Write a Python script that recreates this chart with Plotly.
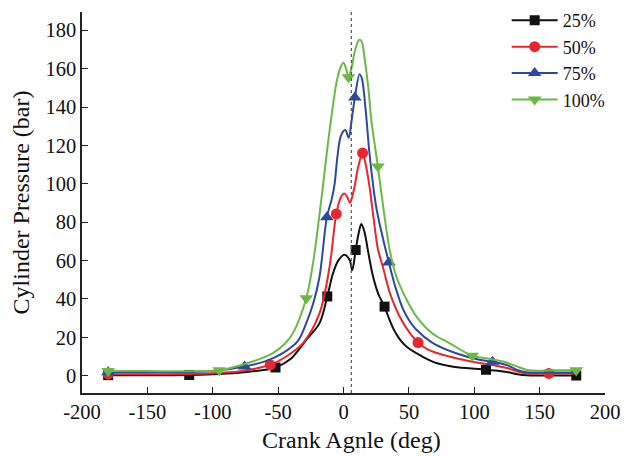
import plotly.graph_objects as go

# ---- data ----
labels = ["25%", "50%", "75%", "100%"]

angle_25 = [-180, -150, -118, -100, -80, -65, -52, -40, -28.5, -18.3, -12.4, -8, -4, 0.8, 4.7, 6.7,
            9.3, 11.5, 13.6, 16, 19, 22.5, 27, 31.4, 35, 38.5, 42, 46, 50, 55.7, 63, 71, 85, 104, 109, 118,
            126, 133, 140, 150, 165, 178]
press_25 = [0.3, 0.3, 0.4, 0.8, 1.6, 2.6, 4.3, 9, 18.7, 27.4, 41.3, 53.4, 60, 63, 60.3, 55,
            65.5, 74, 79, 75, 64, 52, 42, 36, 29.5, 24, 20, 16.6, 14.2, 11.8, 9, 6.6, 4.6, 3.5, 3.1, 2.6,
            1.8, 0.8, 0.2, 0.1, 0.1, 0.1]
markers_25 = [-180, -118, -52, -12.4, 9.3, 31.4, 109, 178]

angle_50 = [-180, -150, -120, -100, -80, -68, -56, -45, -31, -18.3, -10.6, -5.5, -2, 0.5, 3, 5,
            8, 11, 14.6, 17, 20, 23, 26.3, 30, 36, 42.9, 50, 57, 65, 81, 104, 115, 125, 133, 140,
            157, 178]
press_50 = [0.8, 0.8, 0.9, 1.3, 2.2, 3.6, 5.7, 9.5, 17, 32.6, 57, 84.3, 93, 95, 93, 90,
            97, 108, 116, 110, 98, 82, 66, 57, 42, 30.9, 23, 17.3, 13.5, 10, 6.6, 5.5, 4, 2.2, 1.2,
            1.2, 1.2]
markers_50 = [-180, -56, -5.5, 14.6, 57, 157]

angle_75 = [-180, -150, -120, -100, -75.7, -60, -46.4, -35, -28.5, -23, -18.3, -12.7, -9, -6.8, -4.5,
            -2, 1.4, 4, 6, 8.7, 12.3, 14, 17, 20, 25, 30, 34.7, 40, 45.4, 50, 55, 68.4, 85, 104, 114,
            125, 133, 140, 160, 178]
press_75 = [1.8, 1.8, 1.9, 2.4, 4.8, 7.5, 11.8, 18, 27.4, 38, 51.7, 82.6, 92, 100, 115,
            125, 128, 124, 132, 145, 157, 155, 138, 115, 88, 72, 59, 45.5, 35, 29, 24.5, 17, 12, 8.3, 7.3,
            5.5, 3, 1.8, 1.7, 1.7]
markers_75 = [-180, -75.7, -12.7, 8.7, 34.7, 114]

angle_100 = [-180, -150, -120, -95, -80, -65, -54, -45, -38.7, -28.5, -23, -17, -10.6, -5, -2, 0, 2,
             3.8, 6, 9, 12, 14, 16, 19, 21.3, 26.3, 29, 35.3, 40.4, 48, 55.7, 68, 81, 98.5, 110,
             122, 132, 142, 160, 178]
press_100 = [2.5, 2.4, 2.3, 2.8, 5.2, 8.5, 11.8, 16.5, 22.2, 40.4, 60, 91.6, 128, 154, 161, 163, 160,
             155.5, 160, 170, 175, 174, 166, 150, 133, 109, 95, 65.6, 51.7, 40, 30.9, 22, 17, 10.4, 9,
             7.4, 5, 2.8, 2.8, 2.8]
markers_100 = [-180, -95, -28.5, 3.8, 26.3, 98.5, 178]

tdc_angle = 6  # dotted reference line

x_ticks = [-200, -150, -100, -50, 0, 50, 100, 150, 200]
y_ticks = [0, 20, 40, 60, 80, 100, 120, 140, 160, 180]

series = [
    (labels[0], angle_25, press_25, markers_25, "#111111", "square", 10),
    (labels[1], angle_50, press_50, markers_50, "#E8262B", "circle", 11),
    (labels[2], angle_75, press_75, markers_75, "#2B4A9E", "triangle-up", 12),
    (labels[3], angle_100, press_100, markers_100, "#6AB945", "triangle-down", 12),
]

FONT = "Liberation Serif"

fig = go.Figure()
for name, xs, ys, mk, color, sym, ms in series:
    fig.add_trace(go.Scatter(x=xs, y=ys, mode="lines", line=dict(color=color, width=2, shape="spline", smoothing=0.9),
                             showlegend=False, hoverinfo="skip"))
    my = [ys[xs.index(a)] for a in mk]
    fig.add_trace(go.Scatter(x=mk, y=my, mode="markers", marker=dict(symbol=sym, size=ms, color=color),
                             showlegend=False))
    fig.add_trace(go.Scatter(x=[None], y=[None], mode="lines+markers", name=name,
                             line=dict(color=color, width=2), marker=dict(symbol=sym, size=ms, color=color)))

fig.add_shape(type="line", x0=tdc_angle, x1=tdc_angle, xref="x", y0=0, y1=1, yref="paper",
              line=dict(color="#555555", width=1.2, dash="dot"))

axis_common = dict(showline=True, linecolor="#222222", linewidth=1.5, ticks="inside", ticklen=6,
                   tickcolor="#222222", tickwidth=1.2, showgrid=False, zeroline=False, mirror=False,
                   tickfont=dict(family=FONT, size=20.5, color="#111111"))

fig.add_annotation(text="Crank Agnle (deg)", xref="paper", yref="paper", x=(351 - 82) / 523, y=-47 / 381,
                   xanchor="center", yanchor="middle", showarrow=False, font=dict(family=FONT, size=24, color="#111111"))

fig.update_layout(
    width=635, height=456,
    margin=dict(l=82, r=30, t=12, b=63, autoexpand=False),
    plot_bgcolor="white", paper_bgcolor="white",
    font=dict(family=FONT, color="#111111"),
    xaxis=dict(range=[-200, 200], tickvals=x_ticks, ticktext=[str(v) for v in x_ticks], **axis_common),
    yaxis=dict(range=[-9, 189.5], tickvals=y_ticks,
               title=dict(text="Cylinder Pressure (bar)", font=dict(family=FONT, size=24), standoff=9), **axis_common),
    legend=dict(x=0.812, y=1.026, xanchor="left", yanchor="top", bgcolor="rgba(0,0,0,0)",
                font=dict(family=FONT, size=18), itemwidth=46, tracegroupgap=0),
)

fig.write_html("out.html")
